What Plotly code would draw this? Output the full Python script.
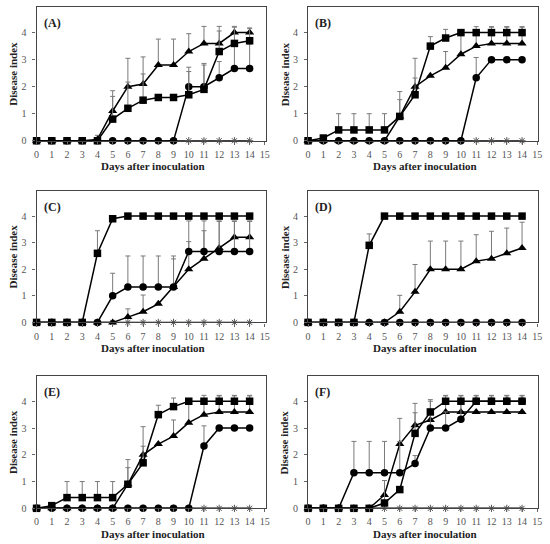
import plotly.graph_objects as go

days = list(range(15))
x_ticks = list(range(16))
y_ticks = [0, 1, 2, 3, 4]
panel_labels = ["(A)", "(B)", "(C)", "(D)", "(E)", "(F)"]
x_title = "Days after inoculation"
y_title = "Disease index"

# Panel A
A_sq = [0, 0, 0, 0, 0, 0.8, 1.2, 1.5, 1.6, 1.6, 1.7, 1.9, 3.3, 3.6, 3.7]
A_sq_err = [0, 0, 0, 0, 0, 0.84, 0.97, 0.97, 0, 0, 0.86, 0.9, 0.76, 0.6, 0.47]
A_tri = [0, 0, 0, 0, 0.05, 1.1, 2.0, 2.1, 2.8, 2.8, 3.3, 3.6, 3.6, 4.0, 4.0]
A_tri_err = [0, 0, 0, 0, 0.15, 0.75, 1.05, 1.0, 0.96, 0.96, 0.66, 0.63, 0.63, 0.23, 0.16]
A_cir = [0, 0, 0, 0, 0, 0, 0, 0, 0, 0, 2.0, 2.0, 2.33, 2.67, 2.67]
A_cir_err = [0, 0, 0, 0, 0, 0, 0, 0, 0, 0, 0.72, 0.86, 0.6, 0.9, 0.9]
A_ast = [0] * 15

# Panel B
B_sq = [0, 0.1, 0.4, 0.4, 0.4, 0.4, 0.9, 1.7, 3.5, 3.8, 4.0, 4.0, 4.0, 4.0, 4.0]
B_sq_err = [0, 0.08, 0.6, 0.6, 0.6, 0.6, 0.62, 0.62, 0.35, 0.32, 0, 0.22, 0.22, 0.22, 0.22]
B_tri = [0, 0, 0, 0, 0, 0, 0.9, 2.0, 2.4, 2.7, 3.2, 3.5, 3.6, 3.6, 3.6]
B_tri_err = [0, 0, 0, 0, 0, 0, 0.92, 1.05, 0, 0.6, 0.8, 0.5, 0.6, 0.6, 0.6]
B_cir = [0, 0, 0, 0, 0, 0, 0, 0, 0, 0, 0, 2.33, 3.0, 3.0, 3.0]
B_cir_err = [0, 0, 0, 0, 0, 0, 0, 0, 0, 0, 0, 0.75, 0, 0, 0]
B_ast = [0] * 15

# Panel C
C_sq = [0, 0, 0, 0, 2.6, 3.9, 4.0, 4.0, 4.0, 4.0, 4.0, 4.0, 4.0, 4.0, 4.0]
C_sq_err = [0, 0, 0, 0, 0.85, 0.1, 0, 0, 0, 0, 0, 0, 0, 0, 0]
C_tri = [0, 0, 0, 0, 0, 0, 0.2, 0.4, 0.7, 1.33, 2.0, 2.4, 2.8, 3.2, 3.2]
C_tri_err = [0, 0, 0, 0, 0, 0, 0.31, 0.63, 0, 1.06, 1.04, 1.05, 1.0, 0.6, 0.6]
C_cir = [0, 0, 0, 0, 0, 1.0, 1.33, 1.33, 1.33, 1.33, 2.67, 2.67, 2.67, 2.67, 2.67]
C_cir_err = [0, 0, 0, 0, 0, 0.85, 1.17, 1.17, 1.17, 1.17, 1.15, 1.15, 1.15, 1.15, 1.15]
C_ast = [0] * 15

# Panel D
D_sq = [0, 0, 0, 0, 2.9, 4.0, 4.0, 4.0, 4.0, 4.0, 4.0, 4.0, 4.0, 4.0, 4.0]
D_sq_err = [0, 0, 0, 0, 0.43, 0, 0, 0, 0, 0, 0, 0, 0, 0, 0]
D_tri = [0, 0, 0, 0, 0, 0, 0.4, 1.15, 2.0, 2.0, 2.0, 2.3, 2.4, 2.6, 2.8]
D_tri_err = [0, 0, 0, 0, 0, 0, 0.62, 1.03, 1.06, 1.06, 1.06, 1.0, 1.03, 0.95, 0.97]
D_cir = [0] * 15
D_cir_err = [0] * 15
D_ast = [0] * 15

# Panel E
E_sq = [0, 0.1, 0.4, 0.4, 0.4, 0.4, 0.9, 1.7, 3.5, 3.8, 4.0, 4.0, 4.0, 4.0, 4.0]
E_sq_err = [0, 0.08, 0.6, 0.6, 0.6, 0.6, 0.62, 0.62, 0.35, 0.32, 0, 0.22, 0.22, 0.22, 0.22]
E_tri = [0, 0, 0, 0, 0, 0, 0.9, 2.0, 2.4, 2.7, 3.2, 3.5, 3.6, 3.6, 3.6]
E_tri_err = [0, 0, 0, 0, 0, 0, 0.92, 1.05, 0, 0.6, 0.8, 0.5, 0.6, 0.6, 0.6]
E_cir = [0, 0, 0, 0, 0, 0, 0, 0, 0, 0, 0, 2.33, 3.0, 3.0, 3.0]
E_cir_err = [0, 0, 0, 0, 0, 0, 0, 0, 0, 0, 0, 0.75, 0, 0, 0]
E_ast = [0] * 15

# Panel F
F_sq = [0, 0, 0, 0, 0, 0.2, 0.7, 2.8, 3.6, 4.0, 4.0, 4.0, 4.0, 4.0, 4.0]
F_sq_err = [0, 0, 0, 0, 0, 0.84, 0, 0.77, 0.46, 0.22, 0.22, 0.22, 0.22, 0.22, 0.22]
F_tri = [0, 0, 0, 0, 0, 0.5, 2.4, 3.1, 3.3, 3.6, 3.6, 3.6, 3.6, 3.6, 3.6]
F_tri_err = [0, 0, 0, 0, 0, 0, 0.96, 0.82, 0.7, 0.6, 0.6, 0, 0, 0, 0]
F_cir = [0, 0, 0, 1.33, 1.33, 1.33, 1.33, 1.67, 3.0, 3.0, 3.33, 4.0, 4.0, 4.0, 4.0]
F_cir_err = [0, 0, 0, 1.17, 1.17, 1.17, 1.17, 0.3, 0.6, 0.6, 0.6, 0.2, 0.2, 0.2, 0.2]
F_ast = [0] * 15

panels = [
    (A_sq, A_sq_err, A_tri, A_tri_err, A_cir, A_cir_err, A_ast),
    (B_sq, B_sq_err, B_tri, B_tri_err, B_cir, B_cir_err, B_ast),
    (C_sq, C_sq_err, C_tri, C_tri_err, C_cir, C_cir_err, C_ast),
    (D_sq, D_sq_err, D_tri, D_tri_err, D_cir, D_cir_err, D_ast),
    (E_sq, E_sq_err, E_tri, E_tri_err, E_cir, E_cir_err, E_ast),
    (F_sq, F_sq_err, F_tri, F_tri_err, F_cir, F_cir_err, F_ast),
]

W, H = 550, 544
col_px = [(34, 266), (309, 542)]
row_px = [(7, 142.3), (193, 326), (380, 514)]
FONT = "Liberation Serif, Times New Roman, serif"

fig = go.Figure()


def err_obj(e):
    return dict(type="data", symmetric=False,
                array=[v if v > 0 else None for v in e],
                arrayminus=[0 if v > 0 else None for v in e],
                color="#7a7a7a", thickness=1, width=2.5)


annotations = []
for i, (sq, sqe, tri, trie, cir, cire, ast) in enumerate(panels):
    r, c = divmod(i, 2)
    n = i + 1
    xa = "x" if n == 1 else f"x{n}"
    ya = "y" if n == 1 else f"y{n}"
    common = dict(xaxis=xa, yaxis=ya, mode="lines+markers", cliponaxis=False,
                  showlegend=False, line=dict(color="black", width=1.5))
    fig.add_trace(go.Scatter(x=days, y=ast, marker=dict(symbol="asterisk-open", size=6,
                             color="#555", line=dict(color="#555", width=1)), **common))
    fig.add_trace(go.Scatter(x=days, y=tri, error_y=err_obj(trie),
                             marker=dict(symbol="triangle-up", size=8, color="black"), **common))
    fig.add_trace(go.Scatter(x=days, y=cir, error_y=err_obj(cire),
                             marker=dict(symbol="circle", size=7.5, color="black"), **common))
    fig.add_trace(go.Scatter(x=days, y=sq, error_y=err_obj(sqe),
                             marker=dict(symbol="square", size=7.5, color="black"), **common))

    x0, x1 = col_px[c]
    yt, yb = row_px[r]
    ax_common = dict(linecolor="#444", linewidth=1.2, mirror=True, showgrid=False,
                     zeroline=False, ticks="outside", ticklen=3, tickcolor="#666",
                     tickfont=dict(family=FONT, size=10, color="#555"))
    fig.layout[f"xaxis{'' if n == 1 else n}"] = dict(
        domain=[x0 / W, x1 / W], anchor=ya, range=[0, 15.05], tickvals=x_ticks,
        ticklabelstandoff=1, **ax_common)
    fig.layout[f"yaxis{'' if n == 1 else n}"] = dict(
        domain=[1 - yb / H, 1 - yt / H], anchor=xa, range=[0, 4.95], tickvals=y_ticks,
        ticklabelstandoff=4, **ax_common)

    annotations.append(dict(text=f"<b>{panel_labels[i]}</b>", xref="paper", yref="paper",
                            x=(x0 + 5) / W, y=1 - (yt + 16) / H, xanchor="left", yanchor="middle",
                            showarrow=False, font=dict(family=FONT, size=12, color="#222")))
    annotations.append(dict(text=f"<b>{x_title}</b>", xref="paper", yref="paper",
                            x=(x0 + x1) / 2 / W + 0.003, y=1 - (yb + 26) / H, xanchor="center",
                            yanchor="middle", showarrow=False,
                            font=dict(family=FONT, size=11, color="#222")))
    annotations.append(dict(text=f"<b>{y_title}</b>", xref="paper", yref="paper",
                            x=(x0 - 24) / W, y=1 - (yt + yb) / 2 / H, xanchor="center",
                            yanchor="middle", textangle=-90, showarrow=False,
                            font=dict(family=FONT, size=11, color="#222")))

fig.update_layout(width=W, height=H, margin=dict(l=0, r=0, t=0, b=0),
                  paper_bgcolor="white", plot_bgcolor="white",
                  annotations=annotations)

fig.write_html("out.html")
